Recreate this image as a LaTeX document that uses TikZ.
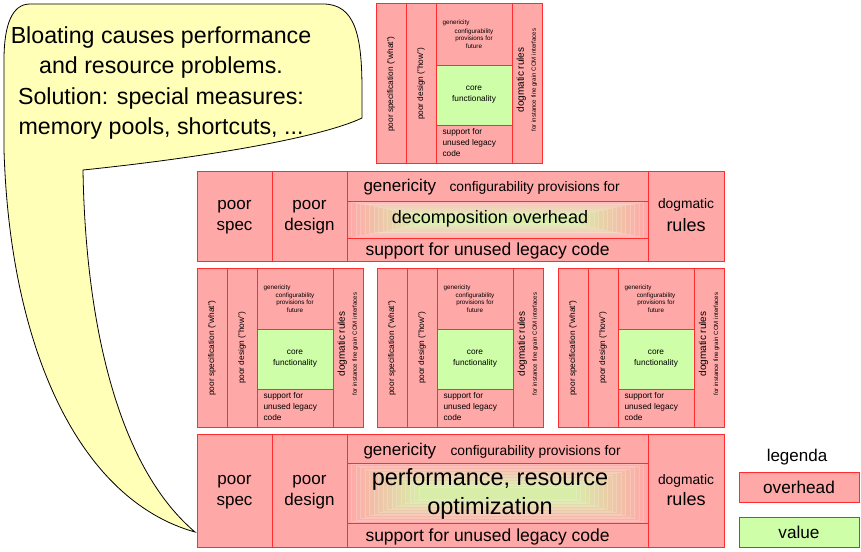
\documentclass[tikz,border=0pt]{standalone}
\usepackage{fontspec}
\setmainfont{Liberation Sans}

\definecolor{ovfill}{RGB}{255,168,168}
\definecolor{ovline}{RGB}{255,45,45}
\definecolor{valfill}{RGB}{206,255,168}
\definecolor{valline}{RGB}{40,140,40}
\definecolor{bubble}{RGB}{255,255,184}

\begin{document}
\begin{tikzpicture}[x=1pt,y=-1pt,line width=1pt,
  blk/.style={draw=ovline,fill=ovfill},
  corebox/.style={draw=ovline,fill=valfill},
  lbl/.style={inner sep=0pt,align=center},
  tinytxt/.style={lbl,font=\fontsize{6.3}{7.6}\selectfont},
  smalltxt/.style={lbl,font=\fontsize{8.3}{11}\selectfont},
  midtxt/.style={lbl,font=\fontsize{13.8}{16}\selectfont},
  bigtxt/.style={lbl,font=\fontsize{17}{21}\selectfont}]

\useasboundingbox (0,0) rectangle (861,551);

% speech bubble
\draw[fill=bubble,line width=0.8pt] (30,4) -- (323,4) .. controls (355,4) and (362,35) .. (362,90)
  -- (362,118) .. controls (320,138) and (200,158) .. (83,170)
  .. controls (85,300) and (110,460) .. (195,532)
  .. controls (80,500) and (10,350) .. (4,150) -- (4,60)
  .. controls (4,25) and (12,4) .. (30,4) -- cycle;
\node[lbl,font=\fontsize{23.2}{30.5}\selectfont] (bubtext) at (161,83)
  {Bloating causes performance\\and resource problems.\\Solution: special measures:\\memory pools, shortcuts, ...};

% small blocks
\foreach \bx/\by/\bn in {376/4/t,197/268/a,377/268/b,558/268/c}{
  \begin{scope}[shift={(\bx,\by)}]
    \draw[blk] (0,0) rectangle (166,159);
    \draw[corebox] (60,61) rectangle (136,121);
    \draw[ovline] (30,0) -- (30,159) (60,0) -- (60,159) (136,0) -- (136,159);
    \node[smalltxt,rotate=90] (\bn-spec) at (15,80) {poor specification ("what")};
    \node[smalltxt,rotate=90] (\bn-design) at (45,80) {poor design ("how")};
    \node[lbl,rotate=90] (\bn-dogma) at (151,76)
      {{\fontsize{10}{11}\selectfont dogmatic rules}\\{\fontsize{6.1}{7}\selectfont for instance fine grain COM interfaces}};
    \node[tinytxt,anchor=base west] (\bn-gen) at (66,21) {genericity};
    \node[tinytxt,anchor=north] (\bn-conf) at (98,24) {configurability\\provisions for\\future};
    \node[smalltxt] (\bn-core) at (98,91) {core\\functionality};
    \node[smalltxt,align=left,anchor=north west] (\bn-sup) at (66,124) {support for\\unused legacy\\code};
  \end{scope}
}

% middle wide block
\draw[blk] (197,171) rectangle (724,261);
\foreach \i in {0,...,16}{
  \pgfmathtruncatemacro\p{\i*5}
  \filldraw[fill=valfill!\p!ovfill,draw=white,draw opacity=0.2,line width=0.4pt]
    (347+\i*4.5,201+\i*0.9) rectangle (648-\i*4.5,238-\i*0.9);
}
\draw[ovline] (272,171) -- (272,261) (347,171) -- (347,261) (648,171) -- (648,261)
  (347,201) -- (648,201) (347,238) -- (648,238);
\node[bigtxt] (mid-spec) at (234.5,217) {poor\\spec};
\node[bigtxt] (mid-design) at (309.5,217) {poor\\design};
\node[bigtxt,anchor=base west] (mid-gen) at (363,191) {genericity};
\node[midtxt,anchor=base west] (mid-conf) at (449,191) {configurability provisions for};
\node[lbl,font=\fontsize{18}{21}\selectfont] (mid-dec) at (490,219) {decomposition overhead};
\node[lbl,font=\fontsize{17.5}{21}\selectfont,anchor=base west] (mid-sup) at (365,255) {support for unused legacy code};
\node[midtxt,anchor=base] (mid-dog) at (686,208) {dogmatic};
\node[lbl,font=\fontsize{18}{21}\selectfont,anchor=base] (mid-rules) at (686,231) {rules};

% bottom wide block
\draw[blk] (197,434) rectangle (724,547);
\foreach \i in {0,...,16}{
  \pgfmathtruncatemacro\p{\i*5}
  \filldraw[fill=valfill!\p!ovfill,draw=white,draw opacity=0.2,line width=0.4pt]
    (347+\i*4.5,463+\i*1.5) rectangle (648-\i*4.5,523-\i*1.5);
}
\draw[ovline] (272,434) -- (272,547) (347,434) -- (347,547) (648,434) -- (648,547)
  (347,463) -- (648,463) (347,523) -- (648,523);
\node[bigtxt] (bot-spec) at (234.5,492) {poor\\spec};
\node[bigtxt] (bot-design) at (309.5,492) {poor\\design};
\node[bigtxt,anchor=base west] (bot-gen) at (363,455) {genericity};
\node[midtxt,anchor=base west] (bot-conf) at (450,455) {configurability provisions for};
\node[lbl,font=\fontsize{23.5}{29}\selectfont] (bot-perf) at (490,494) {performance, resource\\optimization};
\node[lbl,font=\fontsize{17.5}{21}\selectfont,anchor=base west] (bot-sup) at (365,541) {support for unused legacy code};
\node[midtxt,anchor=base] (bot-dog) at (686,484) {dogmatic};
\node[lbl,font=\fontsize{18}{21}\selectfont,anchor=base] (bot-rules) at (686,505) {rules};

% legend
\node[lbl,font=\fontsize{17}{20}\selectfont] (legtitle) at (797,457) {legenda};
\node[blk,font=\fontsize{17.2}{20}\selectfont,minimum width=120pt,minimum height=30pt,inner sep=0pt] (legover) at (799,487) {overhead};
\node[draw=valline,fill=valfill,font=\fontsize{17.2}{20}\selectfont,minimum width=120pt,minimum height=30pt,inner sep=0pt] (legval) at (799,532) {value};

\end{tikzpicture}
\end{document}
